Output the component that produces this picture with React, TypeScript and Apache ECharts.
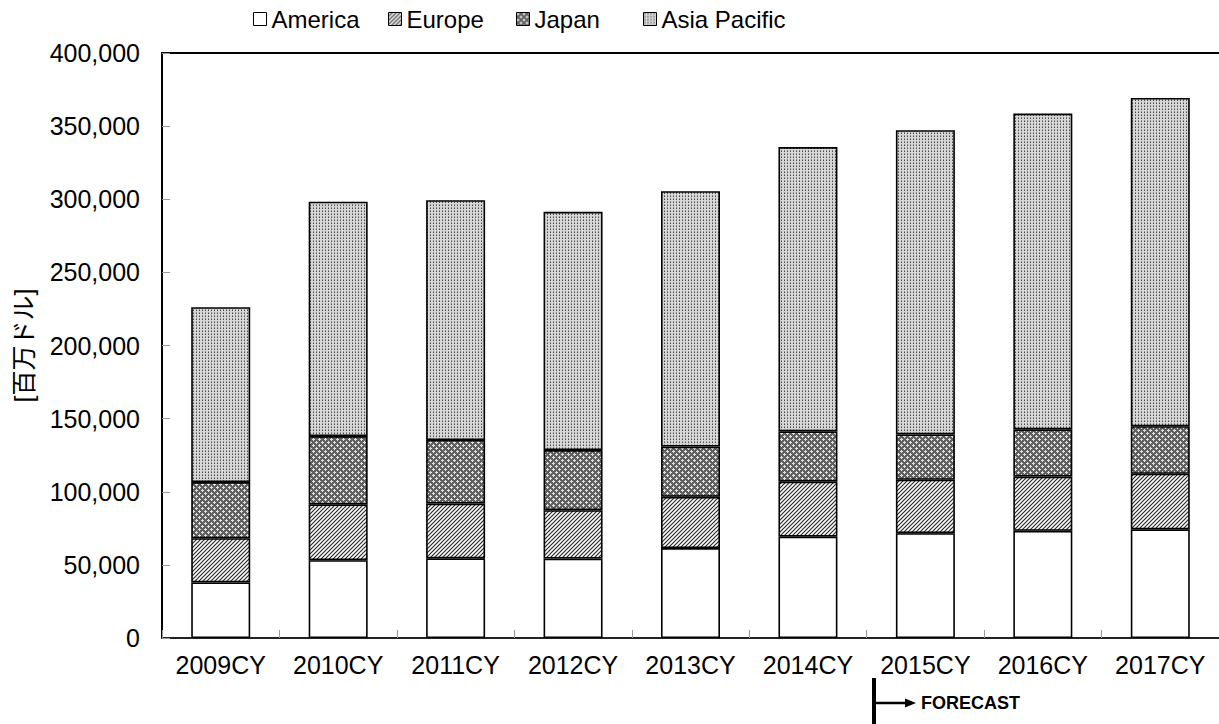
import React, { useEffect, useRef } from "react";
import * as echarts from "echarts";

const categories = ["2009CY", "2010CY", "2011CY", "2012CY", "2013CY", "2014CY", "2015CY", "2016CY", "2017CY"];
const seriesNames = ["America", "Europe", "Japan", "Asia Pacific"];
const america = [38000, 53200, 54500, 54300, 61500, 69300, 71700, 73300, 74300];
const europe = [30200, 38200, 37400, 33100, 35000, 37600, 36500, 37100, 38000];
const japan = [38400, 46700, 43500, 41100, 34400, 34400, 31000, 32300, 32500];
const asiaPacific = [119600, 160200, 163900, 162900, 174600, 194400, 208000, 215900, 224500];
const yMin = 0;
const yMax = 400000;
const yInterval = 50000;
const yAxisName = "[百万ドル]";
const forecastLabel = "FORECAST";

const FONT = "'Liberation Sans', Arial, 'Noto Sans CJK JP', sans-serif";

function makePattern(w: number, h: number, draw: (ctx: CanvasRenderingContext2D) => void) {
  const c = document.createElement("canvas");
  c.width = w;
  c.height = h;
  const ctx = c.getContext("2d") as CanvasRenderingContext2D;
  draw(ctx);
  return { image: c, repeat: "repeat", imageWidth: w, imageHeight: h } as any;
}

export default function App() {
  const ref = useRef<HTMLDivElement>(null);

  useEffect(() => {
    document.body.style.margin = "0";
    if (!ref.current) return;
    const chart = echarts.init(ref.current, null, { renderer: "svg" });

    const whiteFill = "#ffffff";
    const europeFill = makePattern(4, 4, (ctx) => {
      ctx.fillStyle = "#ffffff";
      ctx.fillRect(0, 0, 4, 4);
      ctx.strokeStyle = "#2a2a2a";
      ctx.lineWidth = 1.2;
      ctx.beginPath();
      ctx.moveTo(0, 4);
      ctx.lineTo(4, 0);
      ctx.moveTo(-2, 2);
      ctx.lineTo(2, -2);
      ctx.moveTo(2, 6);
      ctx.lineTo(6, 2);
      ctx.stroke();
    });
    const japanFill = makePattern(6, 6, (ctx) => {
      ctx.fillStyle = "#606060";
      ctx.fillRect(0, 0, 6, 6);
      ctx.fillStyle = "#e0e0e0";
      const pts = [[1, 1], [0, 1], [2, 1], [1, 0], [1, 2], [4, 4], [3, 4], [5, 4], [4, 3], [4, 5]];
      pts.forEach(([x, y]) => ctx.fillRect(x, y, 1, 1));
    });
    const asiaFill = makePattern(3, 3, (ctx) => {
      ctx.fillStyle = "#d6d6d6";
      ctx.fillRect(0, 0, 3, 3);
      ctx.fillStyle = "#4a4a4a";
      ctx.fillRect(1, 1, 1, 1);
      ctx.fillStyle = "#8e8e8e";
      ctx.fillRect(1, 0, 1, 1);
    });

    const fills = [whiteFill, europeFill, japanFill, asiaFill];
    const datas = [america, europe, japan, asiaPacific];
    const legendLefts = [253, 388, 516, 643];

    const legends = seriesNames.map((name, i) => ({
      show: true,
      data: [name],
      left: legendLefts[i],
      top: 7,
      padding: 0,
      itemWidth: 13,
      itemHeight: 13,
      icon: "rect",
      itemStyle: { borderColor: "#000", borderWidth: 1 },
      textStyle: { fontSize: 24, color: "#000", fontFamily: FONT },
    }));

    chart.setOption({
      animation: false,
      backgroundColor: "#ffffff",
      textStyle: { fontFamily: FONT },
      legend: legends,
      grid: { left: 162, right: 0, top: 53, bottom: 86, containLabel: false },
      xAxis: [
        {
          type: "category",
          data: categories,
          position: "bottom",
          axisLine: { show: true, lineStyle: { color: "#222", width: 2 } },
          axisTick: { show: true, inside: true, length: 8, lineStyle: { color: "#999", width: 1 } },
          axisLabel: { interval: 0, fontSize: 25, color: "#000", fontFamily: FONT, margin: 14 },
          splitLine: { show: false },
        },
        {
          type: "category",
          data: categories,
          position: "top",
          axisLine: { show: true, lineStyle: { color: "#000", width: 2 } },
          axisTick: { show: false },
          axisLabel: { show: false },
          splitLine: { show: false },
        },
      ],
      yAxis: {
        type: "value",
        min: yMin,
        max: yMax,
        interval: yInterval,
        name: yAxisName,
        nameLocation: "middle",
        nameGap: 126,
        nameTextStyle: { fontSize: 25, color: "#000", fontFamily: FONT },
        axisLine: { show: true, lineStyle: { color: "#000", width: 2 } },
        axisTick: { show: true, inside: true, length: 8, lineStyle: { color: "#999", width: 1 } },
        axisLabel: {
          fontSize: 25,
          color: "#000",
          fontFamily: FONT,
          margin: 22,
          formatter: (v: number) => v.toLocaleString("en-US"),
        },
        splitLine: { show: false },
      },
      series: seriesNames.map((name, i) => ({
        name,
        type: "bar",
        stack: "total",
        xAxisIndex: 0,
        barWidth: 59,
        data: datas[i],
        itemStyle: { color: fills[i], borderColor: "#000", borderWidth: 1.6 },
        emphasis: { disabled: true },
      })),
      graphic: [
        { type: "rect", shape: { x: 872, y: 678, width: 4, height: 46 }, style: { fill: "#000" } },
        { type: "line", shape: { x1: 876, y1: 703, x2: 908, y2: 703 }, style: { stroke: "#000", lineWidth: 2.5 } },
        { type: "polygon", shape: { points: [[905, 698.5], [916, 703], [905, 707.5]] }, style: { fill: "#000" } },
        {
          type: "text",
          x: 921,
          y: 703,
          style: {
            text: forecastLabel,
            font: `bold 18px ${FONT}`,
            fill: "#000",
            verticalAlign: "middle",
            align: "left",
          },
        },
      ],
    });

    return () => chart.dispose();
  }, []);

  return <div ref={ref} style={{ width: 1219, height: 724 }} />;
}
